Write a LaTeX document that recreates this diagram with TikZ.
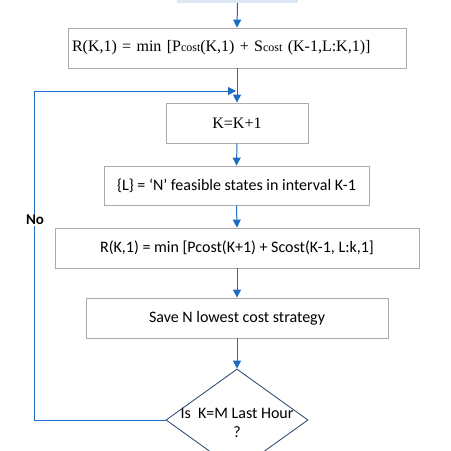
\documentclass[tikz,border=0pt]{standalone}
\usepackage{fontspec}
\setmainfont{Liberation Serif}
\newfontfamily\calib{Carlito}
\usetikzlibrary{arrows.meta,shapes.geometric}
\definecolor{flow}{HTML}{1C6DC1}
\definecolor{navy}{HTML}{24406A}
\definecolor{edgegray}{HTML}{ABABAB}
\definecolor{topfill}{HTML}{DCE7F4}
\begin{document}
\begin{tikzpicture}[x=1pt,y=-1pt,
  box/.style={draw=edgegray, line width=0.8pt, fill=white, minimum height=40pt, inner sep=0pt},
  arr/.style={draw=flow, line width=1pt, -{Triangle[length=8pt,width=8pt]}},
  serif/.style={font=\fontsize{16}{19}\selectfont},
  sans/.style={font=\calib\fontsize{16}{19}\selectfont},
]
\useasboundingbox (0,0) rectangle (451,451);
\node[fill=topfill, minimum width=121pt, minimum height=8pt, inner sep=0pt, anchor=south] (top) at (237.5,3) {};
\node[box, serif, minimum width=338pt, text width=330pt, align=left, inner xsep=4pt] (b2) at (237,48)
  {R(K,1) = min [P{\fontsize{12}{14}\selectfont cost}(K,1) + S{\fontsize{12}{14}\selectfont cost} (K-1,L:K,1)]};
\node[box, serif, minimum width=142pt] (kb) at (237,123) {K=K+1};
\node[box, sans, minimum width=265pt, minimum height=39pt] (b4) at (236.5,185.5) {\{L\} = ‘N’ feasible states in interval K-1};
\node[box, sans, minimum width=364pt] (b5) at (237,248) {R(K,1) = min [Pcost(K+1) + Scost(K-1, L:k,1]};
\node[box, sans, minimum width=302pt] (b6) at (237,318) {Save N lowest cost strategy};
\node[draw=navy, line width=0.8pt, diamond, minimum width=142pt, minimum height=102pt, inner sep=0pt, fill=white] (dia) at (237,420) {};
\node[sans, align=center, inner sep=0pt] (dt) at (237,423) {Is\ \ K=M Last Hour\\?};
\coordinate (lc) at (34,91);
\coordinate (loopin) at (236,91);
\draw[arr] (top.south) -- (b2.north);
\draw[arr] (b2.south) -- (kb.north);
\draw[arr] (kb.south) -- (b4.north);
\draw[arr] (b4.south) -- (b5.north);
\draw[arr] (b5.south) -- (b6.north);
\draw[arr] (b6.south) -- (dia.north);
\draw[arr] (dia.west) -| (lc) -- (loopin);
\node[font=\calib\bfseries\fontsize{15}{18}\selectfont, fill=white, inner sep=1pt] (no) at (35,220) {No};
\end{tikzpicture}
\end{document}
